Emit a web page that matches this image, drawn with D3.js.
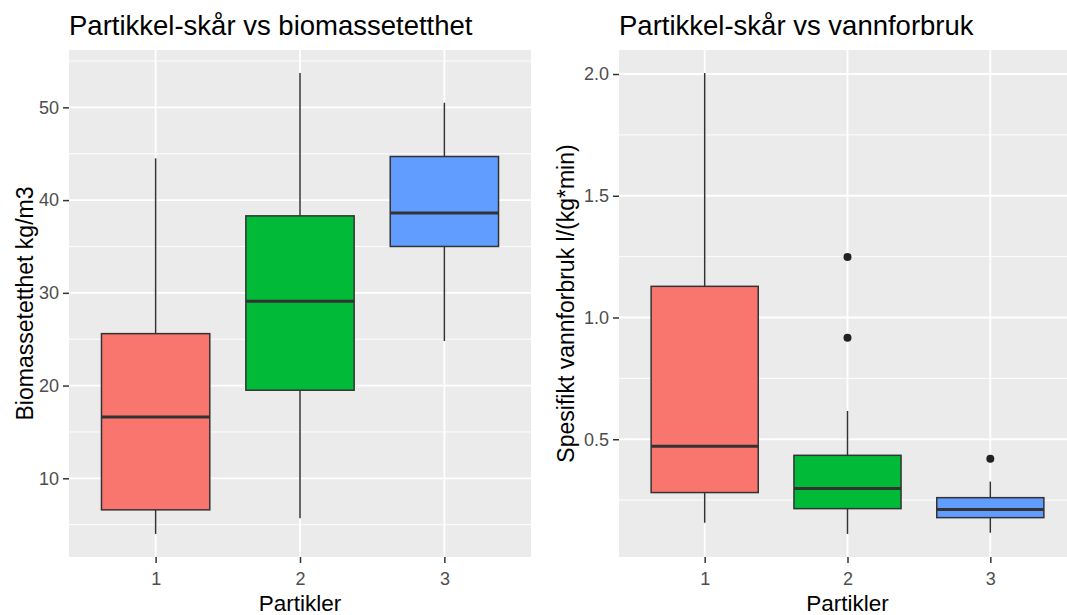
<!DOCTYPE html>
<html>
<head>
<meta charset="utf-8">
<script src="https://cdn.jsdelivr.net/npm/d3@7"></script>
<style>
  body { margin: 0; background: #fff; }
  svg text { font-family: "Liberation Sans", Arial, sans-serif; }
</style>
</head>
<body>
<svg id="chart" width="1067" height="615"></svg>
<script>
// categories (Partikler)
const categories = ["1", "2", "3"];
const fills = ["#F8766D", "#00BA38", "#619CFF"];

// left: biomassetetthet, five-number summaries per group
const bioLow    = [4.0, 5.7, 24.8];
const bioQ1     = [6.6, 19.5, 35.0];
const bioMedian = [16.6, 29.1, 38.6];
const bioQ3     = [25.6, 38.3, 44.7];
const bioHigh   = [44.5, 53.7, 50.5];
const bioOutliers = [[], [], []];
const bioTicks = [10, 20, 30, 40, 50];

// right: vannforbruk
const vannLow    = [0.157, 0.111, 0.116];
const vannQ1     = [0.281, 0.215, 0.178];
const vannMedian = [0.471, 0.298, 0.211];
const vannQ3     = [1.128, 0.434, 0.26];
const vannHigh   = [2.004, 0.616, 0.326];
const vannOutliers = [[], [1.248, 0.917], [0.42]];
const vannTicks = [0.5, 1.0, 1.5, 2.0];

const svg = d3.select("#chart");

function panel(opts) {
    const { x0, x1, y0, y1, low, q1, med, q3, high, outliers, ticks, minor, fmt, title, ytitle, ytitleX } = opts;

    const allVals = low.concat(high, outliers.flat());
    const lo = d3.min(allVals), hi = d3.max(allVals);
    const pad = (hi - lo) * 0.05;
    const y = d3.scaleLinear().domain([lo - pad, hi + pad]).range([y1, y0]);

    // discrete x with ggplot-style 0.6 expansion
    const step = (x1 - x0) / (categories.length - 1 + 1.2);
    const x = d3.scalePoint().domain(categories).range([x0 + 0.6 * step, x1 - 0.6 * step]);
    const boxW = step * 0.75;

    const g = svg.append("g");

    // --- Panel background and grid ---
    g.append("rect").attr("x", x0).attr("y", y0)
        .attr("width", x1 - x0).attr("height", y1 - y0).attr("fill", "#EBEBEB");

    g.selectAll(".minor").data(minor).enter().append("line")
        .attr("x1", x0).attr("x2", x1)
        .attr("y1", d => y(d)).attr("y2", d => y(d))
        .attr("stroke", "#fff").attr("stroke-width", 0.9);

    g.selectAll(".major").data(ticks).enter().append("line")
        .attr("x1", x0).attr("x2", x1)
        .attr("y1", d => y(d)).attr("y2", d => y(d))
        .attr("stroke", "#fff").attr("stroke-width", 1.8);

    g.selectAll(".vmajor").data(categories).enter().append("line")
        .attr("x1", d => x(d)).attr("x2", d => x(d))
        .attr("y1", y0).attr("y2", y1)
        .attr("stroke", "#fff").attr("stroke-width", 1.8);

    // --- Boxes ---
    const data = categories.map((c, i) => ({ c, i, low: low[i], q1: q1[i], med: med[i], q3: q3[i], high: high[i], out: outliers[i] }));
    const b = g.selectAll(".box").data(data).enter().append("g");

    b.append("line")
        .attr("x1", d => x(d.c)).attr("x2", d => x(d.c))
        .attr("y1", d => y(d.high)).attr("y2", d => y(d.q3))
        .attr("stroke", "#333").attr("stroke-width", 1.5);
    b.append("line")
        .attr("x1", d => x(d.c)).attr("x2", d => x(d.c))
        .attr("y1", d => y(d.q1)).attr("y2", d => y(d.low))
        .attr("stroke", "#333").attr("stroke-width", 1.5);
    b.append("rect")
        .attr("x", d => x(d.c) - boxW / 2).attr("width", boxW)
        .attr("y", d => y(d.q3)).attr("height", d => y(d.q1) - y(d.q3))
        .attr("fill", d => fills[d.i]).attr("stroke", "#333").attr("stroke-width", 1.5);
    b.append("line")
        .attr("x1", d => x(d.c) - boxW / 2).attr("x2", d => x(d.c) + boxW / 2)
        .attr("y1", d => y(d.med)).attr("y2", d => y(d.med))
        .attr("stroke", "#333").attr("stroke-width", 3);
    b.selectAll(".out").data(d => d.out.map(v => ({ c: d.c, v }))).enter().append("circle")
        .attr("cx", d => x(d.c)).attr("cy", d => y(d.v)).attr("r", 4)
        .attr("fill", "#222");

    // --- Axes ---
    const yAxis = g.append("g").attr("transform", `translate(${x0},0)`)
        .call(d3.axisLeft(y).tickValues(ticks).tickFormat(fmt).tickSize(6).tickPadding(4));
    const xAxis = g.append("g").attr("transform", `translate(0,${y1})`)
        .call(d3.axisBottom(x).tickSize(6).tickPadding(9));
    [yAxis, xAxis].forEach(a => {
        a.select(".domain").remove();
        a.selectAll(".tick line").attr("stroke", "#333").attr("stroke-width", 1.5);
        a.selectAll(".tick text").attr("fill", "#4D4D4D").style("font-size", "18px");
    });

    // --- Titles ---
    g.append("text").attr("x", x0).attr("y", 35)
        .style("font-size", "27.5px").attr("fill", "#000").text(title);
    g.append("text").attr("x", (x0 + x1) / 2).attr("y", 611)
        .attr("text-anchor", "middle").style("font-size", "22.5px").attr("fill", "#000").text("Partikler");
    g.append("text")
        .attr("transform", `translate(${ytitleX},${(y0 + y1) / 2}) rotate(-90)`)
        .attr("text-anchor", "middle").style("font-size", "23px").attr("fill", "#000").text(ytitle);
}

panel({
    x0: 69, x1: 531, y0: 50, y1: 557,
    low: bioLow, q1: bioQ1, med: bioMedian, q3: bioQ3, high: bioHigh, outliers: bioOutliers,
    ticks: bioTicks, minor: [5, 15, 25, 35, 45, 55], fmt: d3.format("d"),
    title: "Partikkel-skår vs biomassetetthet", ytitle: "Biomassetetthet kg/m3", ytitleX: 33
});

panel({
    x0: 619, x1: 1076, y0: 50, y1: 557,
    low: vannLow, q1: vannQ1, med: vannMedian, q3: vannQ3, high: vannHigh, outliers: vannOutliers,
    ticks: vannTicks, minor: [0.25, 0.75, 1.25, 1.75], fmt: d3.format(".1f"),
    title: "Partikkel-skår vs vannforbruk", ytitle: "Spesifikt vannforbruk l/(kg*min)", ytitleX: 574
});
</script>
</body>
</html>
